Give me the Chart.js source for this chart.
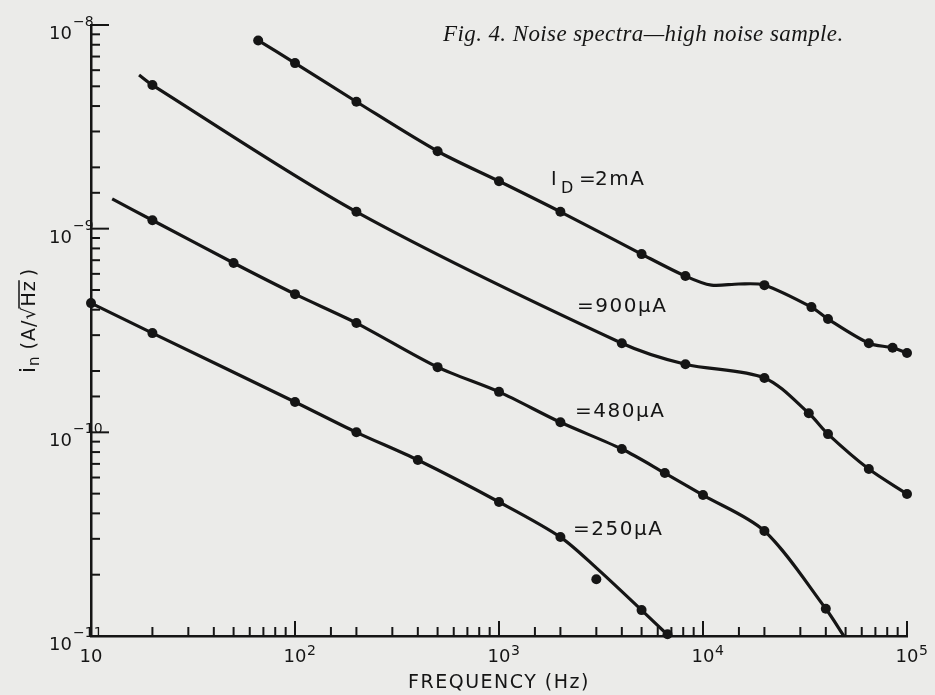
<!DOCTYPE html>
<html>
<head>
<meta charset="utf-8">
<script src="https://cdn.jsdelivr.net/npm/chart.js@4.4.0/dist/chart.umd.min.js"></script>
<style>
  html, body { margin: 0; padding: 0; background: #ebebe9; }
  #wrap { width: 935px; height: 695px; }
</style>
</head>
<body>
<div id="wrap"><canvas id="noiseChart" width="935" height="695"></canvas></div>
<script>
const ink = '#151515';
const labelFont = '"DejaVu Sans"';

// measured points: frequency (Hz) and noise current (A/sqrt(Hz))
const f2mA = [66, 100, 200, 500, 1000, 2000, 5000, 8200, 20000, 34000, 41000, 65000, 85000, 100000];
const i2mA = [8.4e-9, 6.5e-9, 4.2e-9, 2.4e-9, 1.71e-9, 1.21e-9, 7.5e-10, 5.85e-10, 5.28e-10, 4.12e-10, 3.6e-10, 2.74e-10, 2.6e-10, 2.45e-10];
const f900 = [20, 200, 4000, 8200, 20000, 33000, 41000, 65000, 100000];
const i900 = [5.07e-9, 1.21e-9, 2.74e-10, 2.16e-10, 1.85e-10, 1.24e-10, 9.8e-11, 6.6e-11, 4.98e-11];
const f480 = [20, 50, 100, 200, 500, 1000, 2000, 4000, 6500, 10000, 20000, 40000];
const i480 = [1.10e-9, 6.78e-10, 4.77e-10, 3.44e-10, 2.09e-10, 1.58e-10, 1.12e-10, 8.28e-11, 6.31e-11, 4.92e-11, 3.28e-11, 1.36e-11];
const f250 = [10, 20, 100, 200, 400, 1000, 2000, 3000, 5000, 6700];
const i250 = [4.31e-10, 3.07e-10, 1.41e-10, 1.0e-10, 7.31e-11, 4.55e-11, 3.06e-11, 1.9e-11, 1.34e-11, 1.02e-11];

// the hand-drawn smooth curves
const c2mAf = [66, 100, 200, 500, 1000, 2000, 5000, 8200, 11000, 15000, 20000, 34000, 41000, 65000, 85000, 100000];
const c2mAi = [8.4e-9, 6.5e-9, 4.2e-9, 2.4e-9, 1.71e-9, 1.21e-9, 7.5e-10, 5.85e-10, 5.28e-10, 5.35e-10, 5.28e-10, 4.12e-10, 3.6e-10, 2.74e-10, 2.6e-10, 2.45e-10];
const c900f = [17.2, 20, 200, 4000, 8200, 20000, 33000, 41000, 65000, 100000];
const c900i = [5.68e-9, 5.07e-9, 1.21e-9, 2.74e-10, 2.16e-10, 1.85e-10, 1.24e-10, 9.8e-11, 6.6e-11, 4.98e-11];
const c480f = [12.7, 20, 50, 100, 200, 500, 1000, 2000, 4000, 6500, 10000, 20000, 40000, 49000];
const c480i = [1.40e-9, 1.10e-9, 6.78e-10, 4.77e-10, 3.44e-10, 2.09e-10, 1.58e-10, 1.12e-10, 8.28e-11, 6.31e-11, 4.92e-11, 3.28e-11, 1.36e-11, 1.0e-11];
const c250f = [10, 20, 100, 200, 400, 1000, 2000, 3000, 5000, 6800];
const c250i = [4.31e-10, 3.07e-10, 1.41e-10, 1.0e-10, 7.31e-11, 4.55e-11, 3.06e-11, 2.16e-11, 1.34e-11, 1.0e-11];

// axis decades and their exponent labels
const xDecades = [10, 100, 1000, 10000, 100000];
const xExps = ['', '2', '3', '4', '5'];
const yDecades = [1e-8, 1e-9, 1e-10, 1e-11];
const yExps = ['\u22128', '\u22129', '\u221210', '\u221211'];

const pts = (fs, vs) => fs.map((f, i) => ({ x: f, y: vs[i] }));

const curve = (fs, vs) => ({
    data: pts(fs, vs),
    showLine: true,
    borderColor: ink,
    borderWidth: 3.2,
    pointRadius: 0,
    tension: 0.3,
    clip: 4
});
const dots = (fs, vs) => ({
    data: pts(fs, vs),
    showLine: false,
    pointRadius: 5,
    pointBackgroundColor: ink,
    pointBorderColor: ink,
    pointBorderWidth: 0,
    clip: false
});

const isDecade = v => { const l = Math.log10(v); return Math.abs(l - Math.round(l)) < 1e-6; };

const figureDecor = {
    id: 'figureDecor',
    beforeDatasetsDraw(chart) {
        const { ctx, chartArea: a, scales: { x, y } } = chart;
        ctx.save();
        ctx.strokeStyle = ink;
        ctx.lineWidth = 2;
        x.ticks.forEach(t => {
            const px = x.getPixelForValue(t.value);
            const len = isDecade(t.value) ? 15 : 9;
            ctx.beginPath(); ctx.moveTo(px, a.bottom); ctx.lineTo(px, a.bottom - len); ctx.stroke();
        });
        y.ticks.forEach(t => {
            const py = y.getPixelForValue(t.value);
            const len = isDecade(t.value) ? 18 : 9;
            ctx.beginPath(); ctx.moveTo(a.left, py); ctx.lineTo(a.left + len, py); ctx.stroke();
        });
        ctx.restore();
    },
    afterDraw(chart) {
        const { ctx, chartArea: a, scales: { x, y } } = chart;
        ctx.save();
        ctx.fillStyle = ink;
        ctx.textBaseline = 'alphabetic';

        // y decade labels
        yDecades.forEach((v, i) => {
            const py = y.getPixelForValue(v);
            ctx.font = '18px ' + labelFont;
            ctx.textAlign = 'right';
            ctx.fillText('10', a.left - 19, py + 14);
            ctx.font = '14px ' + labelFont;
            ctx.textAlign = 'left';
            ctx.fillText(yExps[i], a.left - 18, py + 1);
        });
        // x decade labels
        xDecades.forEach((v, i) => {
            const px = x.getPixelForValue(v);
            ctx.font = '18px ' + labelFont;
            ctx.textAlign = 'center';
            ctx.fillText('10', px, a.bottom + 26);
            ctx.font = '14px ' + labelFont;
            ctx.textAlign = 'left';
            ctx.fillText(xExps[i], px + 12, a.bottom + 19);
        });

        // axis titles
        ctx.font = '19px ' + labelFont;
        ctx.textAlign = 'center';
        ctx.letterSpacing = '1.5px';
        ctx.fillText('FREQUENCY (Hz)', 499, 688);

        ctx.save();
        ctx.translate(35, 373);
        ctx.rotate(-Math.PI / 2);
        ctx.textAlign = 'left';
        ctx.letterSpacing = '1px';
        let cx = 0;
        ctx.font = '22px ' + labelFont;
        ctx.fillText('i', cx, 0); cx += ctx.measureText('i').width;
        ctx.font = '15px ' + labelFont;
        ctx.fillText('n', cx, 4); cx += ctx.measureText('n').width + 6;
        ctx.font = '19px ' + labelFont;
        ctx.fillText('(A/\u221A', cx, 0); cx += ctx.measureText('(A/\u221A').width;
        const hzW = ctx.measureText('Hz').width;
        ctx.fillText('Hz', cx, 0);
        ctx.lineWidth = 1.5; ctx.strokeStyle = ink;
        ctx.beginPath(); ctx.moveTo(cx - 2, -16); ctx.lineTo(cx + hzW, -16); ctx.stroke();
        cx += hzW + 4;
        ctx.fillText(')', cx, 0);
        ctx.restore();

        // curve labels
        ctx.textAlign = 'left';
        ctx.letterSpacing = '0px';
        ctx.font = '19px ' + labelFont;
        ctx.fillText('I', 551, 185);
        ctx.font = '16px ' + labelFont;
        ctx.fillText('D', 561, 193);
        ctx.font = '20px ' + labelFont;
        ctx.letterSpacing = '1.5px';
        ctx.fillText('=', 579, 185);
        ctx.fillText('2mA', 595, 185);
        ctx.fillText('=900\u00B5A', 577, 312);
        ctx.fillText('=480\u00B5A', 575, 417);
        ctx.fillText('=250\u00B5A', 573, 535);

        // caption
        ctx.letterSpacing = '0.4px';
        ctx.font = 'italic 23px "Liberation Serif"';
        ctx.fillText('Fig. 4. Noise spectra\u2014high noise sample.', 443, 41);
        ctx.restore();
    }
};

const ctx = document.getElementById('noiseChart').getContext('2d');
const noiseChart = new Chart(ctx, {
    type: 'scatter',
    data: {
        datasets: [
            curve(c2mAf, c2mAi), dots(f2mA, i2mA),
            curve(c900f, c900i), dots(f900, i900),
            curve(c480f, c480i), dots(f480, i480),
            curve(c250f, c250i), dots(f250, i250)
        ]
    },
    options: {
        responsive: false,
        animation: false,
        layout: { padding: { left: 91, right: 28, top: 25, bottom: 59 } },
        plugins: { legend: { display: false }, tooltip: { enabled: false } },
        scales: {
            x: {
                type: 'logarithmic', min: 10, max: 100000,
                grid: { display: false, drawTicks: false },
                border: { display: true, color: ink, width: 2.5 },
                ticks: { display: false },
                afterFit: s => { s.height = 0; }
            },
            y: {
                type: 'logarithmic', min: 1e-11, max: 1e-8,
                grid: { display: false, drawTicks: false },
                border: { display: true, color: ink, width: 2.5 },
                ticks: { display: false },
                afterFit: s => { s.width = 0; }
            }
        }
    },
    plugins: [figureDecor]
});
</script>
</body>
</html>
